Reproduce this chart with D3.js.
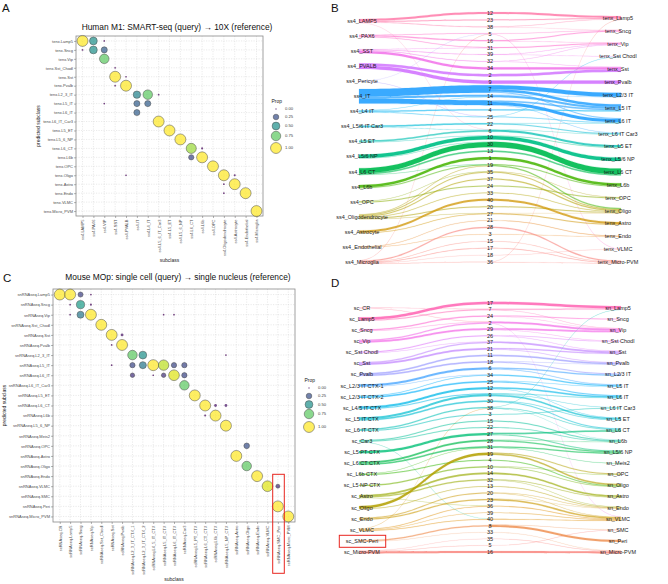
<!DOCTYPE html>
<html><head><meta charset="utf-8">
<script src="https://cdn.jsdelivr.net/npm/d3@7"></script>
<style>body{margin:0;background:#fff}svg{display:block;font-family:"Liberation Sans",Arial,Helvetica,sans-serif}</style>
</head><body><svg id="c" width="668" height="584"></svg>
<script>
// ---------------- DATA ----------------
const A_rows = ["tenx.Lamp5","tenx.Sncg","tenx.Vip","tenx.Sst_Chodl","tenx.Sst","tenx.Pvalb","tenx.L2_3_IT","tenx.L5_IT","tenx.L6_IT","tenx.L6_IT_Car3","tenx.L5_ET","tenx.L5_6_NP","tenx.L6_CT","tenx.L6b","tenx.OPC","tenx.Oligo","tenx.Astro","tenx.Endo","tenx.VLMC","tenx.Micro_PVM"];
const A_cols = ["ss4.LAMP5","ss4.PAX6","ss4.VIP","ss4.SST","ss4.PVALB","ss4.IT","ss4.L4_IT","ss4.L5_6_IT_Car3","ss4.L5_ET","ss4.L5_6_NP","ss4.L6_CT","ss4.L6b","ss4.OPC","ss4.Oligodendrocyte","ss4.Astrocyte","ss4.Endothelial","ss4.Microglia"];
// [row, col, prop]
const A_props = [[0,0,1],[0,1,0.5],[0,2,0.01],[1,0,0.01],[1,1,0.5],[1,2,0.3],[2,2,0.75],[3,3,0.01],
 [4,3,1],[4,4,0.01],[5,3,0.01],[5,4,1],[6,5,0.45],[6,6,0.75],[6,7,0.01],[7,2,0.01],[7,5,0.3],[7,6,0.3],
 [8,5,0.3],[9,7,1],[10,8,1],[11,9,1],[12,10,0.85],[12,11,0.02],[13,10,0.22],[13,11,1],[14,12,1],
 [15,4,0.01],[15,13,1],[15,14,0.02],[16,13,0.01],[16,14,1],[17,13,0.01],[17,15,1],[19,16,1]];

const C_rows = ["snRNAseq.Lamp5","snRNAseq.Sncg","snRNAseq.Vip","snRNAseq.Sst_Chodl","snRNAseq.Sst","snRNAseq.Pvalb","snRNAseq.L2_3_IT","snRNAseq.L5_IT","snRNAseq.L6_IT","snRNAseq.L6_IT_Car3","snRNAseq.L5_ET","snRNAseq.L6_CT","snRNAseq.L6b","snRNAseq.L5_6_NP","snRNAseq.Meis2","snRNAseq.OPC","snRNAseq.Astro","snRNAseq.Oligo","snRNAseq.Endo","snRNAseq.VLMC","snRNAseq.SMC","snRNAseq.Peri","snRNAseq.Micro_PVM"];
const C_cols = ["scRNAseq.CR","scRNAseq.Lamp5","scRNAseq.Sncg","scRNAseq.Vip","scRNAseq.Sst_Chodl","scRNAseq.Sst","scRNAseq.Pvalb","scRNAseq.L2_3_IT_CTX_1","scRNAseq.L2_3_IT_CTX_2","scRNAseq.L4_5_IT_CTX","scRNAseq.L5_IT_CTX","scRNAseq.L6_IT_CTX","scRNAseq.Car3","scRNAseq.L5_PT_CTX","scRNAseq.L6_CT_CTX","scRNAseq.L6b_CTX","scRNAseq.L5_NP_CTX","scRNAseq.Astro","scRNAseq.Oligo","scRNAseq.Endo","scRNAseq.VLMC","scRNAseq.SMC_Peri","scRNAseq.Micro_PVM"];
const C_props = [[0,0,1],[0,1,1],[0,2,0.2],[0,3,0.01],[1,1,0.01],[1,2,0.55],[1,3,0.02],[2,1,0.01],[2,2,0.4],[2,3,1],[2,10,0.01],[2,11,0.01],
 [3,4,1],[4,5,1],[4,6,0.05],[5,5,0.01],[5,6,1],[6,7,0.75],[6,8,0.5],[6,16,0.01],
 [7,5,0.01],[7,7,0.22],[7,8,0.4],[7,9,1],[7,10,0.9],[7,11,0.22],[7,12,0.22],
 [8,7,0.15],[8,9,0.01],[8,10,0.15],[8,11,0.95],[8,12,0.22],[9,12,0.75],[10,13,1],
 [11,14,1],[11,15,0.05],[11,16,0.05],[12,14,0.02],[12,15,1],[13,16,1],[15,18,0.25],
 [16,17,1],[17,18,0.75],[18,19,1],[19,20,0.95],[19,21,0.12],[21,21,1],[22,22,1]];
const legendVals = [0, 0.25, 0.5, 0.75, 1];

const B_left = ["ss4_LAMP5","ss4_PAX6","ss4_SST","ss4_PVALB","ss4_Pericyte","ss4_IT","ss4_L4 IT","ss4_L5/6 IT Car3","ss4_L5 ET","ss4_L5/6 NP","ss4_L6 CT","ss4_L6b","ss4_OPC","ss4_Oligodendrocyte","ss4_Astrocyte","ss4_Endothelial","ss4_Microglia"];
const B_mid = ["12","23","38","5","16","31","39","32","34","2","9","7","14","11","4","25","22","6","10","30","13","1","19","35","37","24","33","40","20","27","21","28","3","15","17","18","36"];
const B_right = ["tenx_Lamp5","tenx_Sncg","tenx_Vip","tenx_Sst Chodl","tenx_Sst","tenx_Pvalb","tenx_L2/3 IT","tenx_L5 IT","tenx_L6 IT","tenx_L6 IT Car3","tenx_L5 ET","tenx_L5/6 NP","tenx_L6 CT","tenx_L6b","tenx_OPC","tenx_Oligo","tenx_Astro","tenx_Endo","tenx_VLMC","tenx_Micro-PVM"];
// [left, mid, cells]
const B_leftFlows = [[0,0,2],[0,1,1],[0,2,0.8],[0,17,0.3],[1,3,0.6],[1,4,1.2],[1,5,0.8],[2,6,0.8],[2,7,0.8],[2,8,2.2],[2,5,0.3],
 [3,9,2.5],[3,10,3.2],[4,15,0.4],[4,3,0.3],[5,11,7.5],[5,12,2],[5,13,5],[6,14,1.2],[6,15,0.8],[6,12,0.4],
 [7,16,1.5],[7,17,0.6],[8,17,1.5],[8,18,0.6],[9,18,3.5],[9,19,0.5],[10,19,5],[10,20,1.5],[10,22,0.5],
 [11,21,2.5],[11,22,1],[12,25,1],[12,23,0.5],[13,23,1],[13,24,1.2],[13,26,0.8],[13,28,1],[13,22,0.6],[13,29,0.5],
 [14,27,2],[14,29,0.8],[15,30,0.7],[15,32,0.5],[16,31,1.2],[16,33,0.5],[16,34,0.7],[16,35,0.4],[16,36,0.4],[16,3,0.3]];
// [mid, right, cells]
const B_rightFlows = [[0,0,2],[1,0,1],[2,0,0.5],[2,1,0.3],[3,1,0.6],[3,18,0.3],[4,1,1],[4,2,0.4],[5,2,1.1],[6,2,0.5],[6,3,0.3],
 [7,2,0.4],[7,4,0.4],[8,4,2.2],[9,4,2.5],[10,5,3.2],[11,6,4],[11,7,2.5],[11,8,1],[12,7,2],[12,6,0.4],
 [13,8,3],[13,7,1.5],[13,9,0.5],[14,7,1.2],[15,3,0.4],[15,8,0.8],[16,9,1],[16,8,0.5],[17,10,2],[17,9,0.3],
 [18,11,3.5],[18,10,0.6],[19,12,5.5],[20,12,1.5],[21,13,2.5],[22,13,1],[22,15,1.1],[23,15,1],[23,14,0.5],
 [24,15,1.2],[25,14,1],[26,15,0.8],[27,16,2],[28,15,1],[29,16,1],[29,15,0.3],[30,17,0.7],[31,19,1.2],
 [32,17,0.5],[33,19,0.5],[34,19,0.7],[35,18,0.4],[36,19,0.4],[36,0,0.3]];

const D_left = ["sc_CR","sc_Lamp5","sc_Sncg","sc_Vip","sc_Sst Chodl","sc_Sst","sc_Pvalb","sc_L2/3 IT CTX-1","sc_L2/3 IT CTX-2","sc_L4/5 IT CTX","sc_L5 IT CTX","sc_L6 IT CTX","sc_Car3","sc_L5 PT CTX","sc_L6 CT CTX","sc_L6b CTX","sc_L5 NP CTX","sc_Astro","sc_Oligo","sc_Endo","sc_VLMC","sc_SMC-Peri","sc_Micro-PVM"];
const D_mid = ["17","7","24","2","29","26","37","21","11","18","6","34","25","12","9","30","38","3","15","22","27","28","31","19","4","10","14","32","13","20","23","36","39","40","8","33","35","5","16"];
const D_right = ["sn_Lamp5","sn_Sncg","sn_Vip","sn_Sst Chodl","sn_Sst","sn_Pvalb","sn_L2/3 IT","sn_L5 IT","sn_L6 IT","sn_L6 IT Car3","sn_L5 ET","sn_L6 CT","sn_L6b","sn_L5/6 NP","sn_Meis2","sn_OPC","sn_Oligo","sn_Astro","sn_Endo","sn_VLMC","sn_SMC","sn_Peri","sn_Micro-PVM"];
const D_leftFlows = [[0,1,0.4],[0,3,0.3],[1,0,2.5],[1,1,1],[2,2,1.2],[2,3,0.6],[3,3,1.2],[3,4,1.8],[4,5,1.2],[4,6,0.5],
 [5,6,1.2],[5,7,1.8],[6,8,1.5],[6,9,1.5],[7,10,2],[7,11,0.6],[8,11,0.8],[8,12,1.5],[9,13,2],[9,14,1],
 [10,14,1.8],[10,15,1.5],[11,16,1.2],[11,17,1],[12,18,1],[12,19,0.8],[12,33,0.3],[13,20,2.2],
 [14,21,1.8],[14,22,1.5],[15,22,0.5],[15,24,1],[16,25,1.2],[17,26,1.6],[17,27,1.2],[17,31,0.3],
 [18,23,2.5],[18,28,0.8],[19,29,1],[19,30,1.2],[20,31,0.8],[20,32,0.6],[20,33,0.8],[20,16,0.3],
 [21,34,1.2],[21,35,0.4],[22,36,0.4],[22,37,0.3],[22,38,2]];
const D_rightFlows = [[0,0,2.5],[1,0,1],[1,2,0.3],[2,1,0.8],[2,2,0.4],[3,2,1.8],[4,2,1.6],[4,3,0.3],[5,3,0.6],[5,4,0.6],
 [6,4,1.6],[7,4,1.2],[7,5,0.6],[8,5,1.5],[9,5,0.5],[9,6,1],[10,6,1.2],[10,7,0.8],[11,7,1.2],[12,7,0.6],[12,8,1],
 [13,8,1.5],[13,10,0.5],[14,8,0.8],[14,9,0.5],[14,10,1.5],[15,10,0.6],[15,11,1],[16,11,0.8],[16,12,0.4],[17,9,0.8],
 [18,12,1],[19,12,0.8],[20,11,1.5],[20,13,0.8],[21,13,1.2],[21,12,0.6],[22,13,1.2],[22,14,0.5],[23,15,1],[23,16,1.5],
 [24,16,0.8],[25,15,0.5],[25,16,0.7],[26,17,1.6],[27,17,0.8],[27,18,0.5],[28,18,0.8],[29,18,0.5],[29,19,0.5],
 [30,19,1.5],[30,18,0.4],[31,19,0.8],[32,19,0.6],[33,19,0.8],[3,19,0.3],[34,21,2],[34,20,0.3],[35,22,0.4],
 [36,22,0.4],[37,20,0.3],[38,22,2],[16,0,0.3]];

// ---------------- DRAW ----------------
const svg = d3.select("#c");

// ggplot-style hue (polar CIE-LUV, c=100, l=65) -> sRGB
function hclLuv(h, c, l){
  const Xn=95.047, Yn=100, Zn=108.883;
  const un = 4*Xn/(Xn+15*Yn+3*Zn), vn = 9*Yn/(Xn+15*Yn+3*Zn);
  const hr = h*Math.PI/180, u = c*Math.cos(hr), v = c*Math.sin(hr);
  const Y = l>8 ? Yn*Math.pow((l+16)/116,3) : Yn*l/903.3;
  const up = u/(13*l)+un, vp = v/(13*l)+vn;
  const X = Y*9*up/(4*vp), Z = Y*(12-3*up-20*vp)/(4*vp);
  const x=X/100, y=Y/100, z=Z/100;
  const lin = [3.2404542*x-1.5371385*y-0.4985314*z, -0.9692660*x+1.8760108*y+0.0415560*z, 0.0556434*x-0.2040259*y+1.0572252*z];
  const g = lin.map(t=>{t=Math.max(0,Math.min(1,t)); return Math.round(255*(t<=0.0031308?12.92*t:1.055*Math.pow(t,1/2.4)-0.055));});
  return d3.rgb(g[0],g[1],g[2]).formatHex();
}

[["A",2,11.5],["B",331,11.5],["C",3,282],["D",331,287]].forEach(([t,x,y]) =>
  svg.append("text").attr("x",x).attr("y",y).attr("font-size",11.5).attr("fill","#111").text(t));

function dotPlot(o){
  const g = svg.append("g");
  const x = d3.scalePoint().domain(d3.range(o.cols.length)).range([o.x0,o.x1]).padding(o.px);
  const y = d3.scalePoint().domain(d3.range(o.rows.length)).range([o.y0,o.y1]).padding(o.py);
  g.selectAll(".vg").data(x.domain()).join("line")
    .attr("x1",d=>x(d)).attr("x2",d=>x(d)).attr("y1",o.y0).attr("y2",o.y1)
    .attr("stroke","#d4d4d4").attr("stroke-width",0.5).attr("stroke-dasharray","1.2,1.3");
  g.selectAll(".hg").data(y.domain()).join("line")
    .attr("y1",d=>y(d)).attr("y2",d=>y(d)).attr("x1",o.x0).attr("x2",o.x1)
    .attr("stroke","#d4d4d4").attr("stroke-width",0.5).attr("stroke-dasharray","1.2,1.3");
  g.append("rect").attr("x",o.x0).attr("y",o.y0).attr("width",o.x1-o.x0).attr("height",o.y1-o.y0)
    .attr("fill","none").attr("stroke","#8a8a8a").attr("stroke-width",0.8);
  const xa = g.append("g").attr("transform",`translate(0,${o.y1})`)
    .call(d3.axisBottom(x).tickSize(2).tickFormat(i=>o.cols[i]));
  const ya = g.append("g").attr("transform",`translate(${o.x0},0)`)
    .call(d3.axisLeft(y).tickSize(2).tickPadding(1).tickFormat(i=>o.rows[i]));
  [xa,ya].forEach(a=>{a.select(".domain").remove();
    a.selectAll(".tick line").attr("stroke","#666").attr("stroke-width",0.5);
    a.selectAll("text").attr("font-size",o.fs).attr("fill","#4d4d4d").attr("font-family","Liberation Sans, Arial, sans-serif");});
  xa.selectAll(".tick text").attr("transform","rotate(-90)").attr("x",-3.5).attr("y",0).attr("dy","0.35em").attr("text-anchor","end");
  const area = d3.scaleLinear().domain([0,1]).range([0.45,30]);
  const col = d3.scaleSequential(d3.interpolateViridis).domain([0,1]);
  g.selectAll(".pt").data(o.pts).join("circle")
    .attr("cx",d=>x(d[1])).attr("cy",d=>y(d[0])).attr("r",d=>Math.sqrt(area(d[2])))
    .attr("fill",d=>col(d[2])).attr("fill-opacity",0.72)
    .attr("stroke","#4a4a4a").attr("stroke-width",d=>d[2]>0.1?0.5:0);
  svg.append("text").attr("x",o.tx).attr("y",o.ty).attr("text-anchor","middle").attr("font-size",8.4).attr("fill","#111").text(o.title);
  svg.append("text").attr("x",(o.x0+o.x1)/2).attr("y",o.sy).attr("text-anchor","middle").attr("font-size",5).attr("fill","#222").text("subclass");
  svg.append("text").attr("transform",`translate(${o.yx},${(o.y0+o.y1)/2}) rotate(-90)`).attr("dy","0.35em")
    .attr("text-anchor","middle").attr("font-size",5).attr("fill","#222").text("predicted subclass");
  svg.append("text").attr("x",o.lx-4.5).attr("y",o.ly[0]-6.5).attr("font-size",5).attr("fill","#222").text("Prop");
  const lg = svg.append("g");
  lg.selectAll("circle").data(legendVals).join("circle").attr("cx",o.lx).attr("cy",(d,i)=>o.ly[i])
    .attr("r",d=>Math.sqrt(area(d))).attr("fill",d=>col(d)).attr("fill-opacity",0.72)
    .attr("stroke","#4a4a4a").attr("stroke-width",d=>d>0.1?0.5:0);
  lg.selectAll("text").data(legendVals).join("text").attr("x",o.lx+9).attr("y",(d,i)=>o.ly[i]).attr("dy","0.35em")
    .attr("font-size",4.2).attr("fill","#444").text(d=>d3.format(".2f")(d));
}

dotPlot({rows:A_rows, cols:A_cols, pts:A_props, x0:76, x1:263, y0:36, y1:216, px:0.6, py:0.55, fs:4,
  title:"Human M1: SMART-seq (query) \u2192 10X (reference)", tx:177, ty:30, sy:261.5, yx:38,
  lx:276, ly:[109,117,126,136,148]});
dotPlot({rows:C_rows, cols:C_cols, pts:C_props, x0:53, x1:295, y0:289, y1:522, px:0.65, py:0.55, fs:4,
  title:"Mouse MOp: single cell (query) \u2192 single nucleus (reference)", tx:178, ty:280, sy:580.5, yx:4,
  lx:309, ly:[388,396,404.5,414,427]});
svg.append("rect").attr("x",272.7).attr("y",474.3).attr("width",11.6).attr("height",99).attr("fill","none").attr("stroke","#e8251f").attr("stroke-width",1);

function river(o){
  const g = svg.append("g");
  const yl = d3.scalePoint().domain(d3.range(o.left.length)).range(o.ly);
  const ym = d3.scalePoint().domain(d3.range(o.mid.length)).range(o.my);
  const yr = d3.scalePoint().domain(d3.range(o.right.length)).range(o.ry);
  const wpx = d3.scaleLinear().domain([0,1]).range([0,1]);
  const nL = o.left.length;
  const hue = i => hclLuv(15 + 360*(nL-1-i)/nL, 100, 65);
  const midSrc = o.mid.map((_,m)=>{let b=0,bw=-1;o.lf.forEach(([l,mm,v])=>{if(mm===m&&v>bw){bw=v;b=l;}});return b;});
  const L = o.lf.map(([s,t,v])=>({s,t,v,cs:yl(s),ct:ym(t),c:hue(s),x0:o.xl,x1:o.xm}));
  const R = o.rf.map(([s,t,v])=>({s,t,v,cs:ym(s),ct:yr(t),c:hue(midSrc[s]),x0:o.xm,x1:o.xr}));
  function stack(links, end){
    const other = end==="s" ? "ct" : "cs", center = end==="s" ? "cs" : "ct";
    d3.group(links, d=>d[end]).forEach(arr=>{
      arr.sort((a,b)=>a[other]-b[other]);
      const tot = d3.sum(arr,d=>Math.max(wpx(d.v),0.4));
      let off = arr[0][center]-tot/2;
      arr.forEach(d=>{const w=Math.max(wpx(d.v),0.4); d[end+"0"]=off; d[end+"1"]=off+w; off+=w;});
    });
  }
  stack(L,"s"); stack(L,"t"); stack(R,"s"); stack(R,"t");
  const all = L.concat(R).sort((a,b)=>a.v-b.v);
  const ribbon = d => {const xm=(d.x0+d.x1)/2;
    return `M${d.x0},${d.s0}C${xm},${d.s0} ${xm},${d.t0} ${d.x1},${d.t0}L${d.x1},${d.t1}C${xm},${d.t1} ${xm},${d.s1} ${d.x0},${d.s1}Z`;};
  g.selectAll("path").data(all).join("path").attr("d",ribbon)
    .attr("fill",d=>d.c).attr("fill-opacity",d=>Math.min(0.92,0.26+0.24*d.v))
    .attr("stroke",d=>d.c).attr("stroke-opacity",d=>Math.min(0.6,0.18+0.12*d.v)).attr("stroke-width",0.25);
  const lab = (arr, sc, x) => g.append("g").selectAll("text").data(arr).join("text")
    .attr("x",x).attr("y",(d,i)=>sc(i)).attr("dy","0.35em").attr("text-anchor","middle")
    .attr("font-size",5.5).attr("fill","#1a1a1a").text(d=>d);
  lab(o.left, yl, o.lxl); lab(o.mid, ym, o.xm); lab(o.right, yr, o.lxr);
}

river({left:B_left, mid:B_mid, right:B_right, lf:B_leftFlows, rf:B_rightFlows,
  ly:[21,262], my:[13,262], ry:[18,262], xl:359, xm:490, xr:621, lxl:362, lxr:618});
river({left:D_left, mid:D_mid, right:D_right, lf:D_leftFlows, rf:D_rightFlows,
  ly:[308,552], my:[303,552], ry:[308,552], xl:359, xm:490, xr:621, lxl:362, lxr:618});
svg.append("rect").attr("x",339.3).attr("y",535.3).attr("width",46.4).attr("height",12).attr("fill","none").attr("stroke","#e8251f").attr("stroke-width",1);
</script></body></html>
